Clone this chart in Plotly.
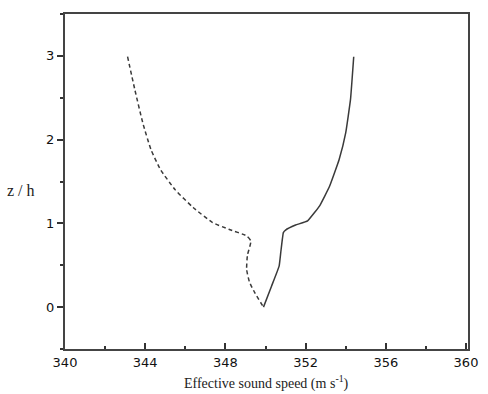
import plotly.graph_objects as go

# Dashed profile (effective sound speed, m/s) vs z/h
dash_c = [343.12, 343.48, 343.88, 344.29, 344.77, 345.5, 346.39, 347.36, 348.17, 349.06, 349.27, 349.1, 349.06, 349.2, 349.47, 349.9]
dash_z = [2.99, 2.60, 2.20, 1.88, 1.64, 1.40, 1.19, 1.01, 0.93, 0.85, 0.79, 0.62, 0.45, 0.30, 0.17, 0.0]

# Solid profile
solid_c = [349.9, 350.3, 350.68, 350.76, 350.89, 351.0, 351.5, 352.1, 352.7, 353.19, 353.67, 354.0, 354.24, 354.4]
solid_z = [0.0, 0.25, 0.49, 0.65, 0.89, 0.92, 0.98, 1.03, 1.21, 1.44, 1.76, 2.08, 2.48, 2.99]

x_ticks = [340, 344, 348, 352, 356, 360]
y_ticks = [0, 1, 2, 3]

line_col = "#3a3a3a"
fig = go.Figure()
fig.add_trace(go.Scatter(x=dash_c, y=dash_z, mode="lines",
                         line=dict(color=line_col, width=1.5, dash="4px,3px", shape="spline", smoothing=0.5),
                         showlegend=False))
fig.add_trace(go.Scatter(x=solid_c, y=solid_z, mode="lines",
                         line=dict(color=line_col, width=1.5, shape="spline", smoothing=0.3),
                         showlegend=False))

fig.update_layout(
    width=488, height=394,
    margin=dict(l=65, r=10, t=14, b=45),
    paper_bgcolor="white", plot_bgcolor="white",
    font=dict(family="DejaVu Sans", size=13, color="#222"),
)
fig.update_xaxes(range=[340, 360.1], tickvals=x_ticks, ticktext=[str(v) for v in x_ticks],
                 ticks="inside", ticklen=6, tickwidth=1.5, tickcolor="#333",
                 minor=dict(dtick=2, tick0=340, ticks="inside", ticklen=3, tickcolor="#333"),
                 showline=True, linewidth=2, linecolor="#444", mirror=True,
                 showgrid=False, zeroline=False,
                 tickfont=dict(family="DejaVu Sans", size=13, color="#111"))
fig.update_yaxes(range=[-0.5, 3.5], tickvals=y_ticks, ticktext=[str(v) for v in y_ticks],
                 ticks="outside", ticklen=6, tickwidth=1.5, tickcolor="#333",
                 minor=dict(dtick=0.5, tick0=0, ticks="outside", ticklen=3, tickcolor="#333"),
                 showline=True, linewidth=2, linecolor="#444", mirror=True,
                 showgrid=False, zeroline=False,
                 tickfont=dict(family="DejaVu Sans", size=13, color="#111"))

fig.add_annotation(text="Effective sound speed (m s<sup>-1</sup>)", xref="paper", yref="paper",
                   x=0.5, y=-0.066, xanchor="center", yanchor="top", showarrow=False,
                   font=dict(family="Liberation Serif", size=14, color="#222"))
fig.add_annotation(text="z / h", xref="paper", yref="paper",
                   x=-0.148, y=0.472, xanchor="left", yanchor="middle", showarrow=False,
                   font=dict(family="Liberation Serif", size=16, color="#222"))

fig.write_html("out.html")
